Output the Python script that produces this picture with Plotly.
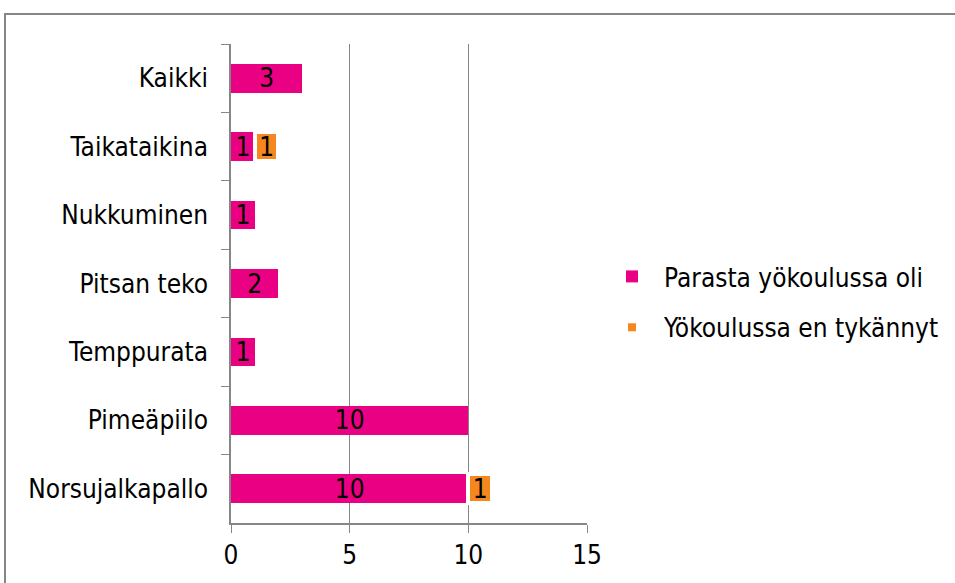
import plotly.graph_objects as go

categories = ["Kaikki", "Taikataikina", "Nukkuminen", "Pitsan teko", "Temppurata", "Pimeäpiilo", "Norsujalkapallo"]
parasta = [3, 1, 1, 2, 1, 10, 10]
en_tykannyt = [None, 1, None, None, None, None, 1]
series_names = ["Parasta yökoulussa oli", "Yökoulussa en tykännyt"]
x_ticks = [0, 5, 10, 15]

FONT = "DejaVu Sans Condensed, DejaVu Sans"
FS = 26
fig = go.Figure()
fig.add_trace(go.Bar(
    y=categories, x=parasta, orientation="h", name=series_names[0],
    marker=dict(color="#EA0082", line=dict(width=0)),
    text=[str(v) for v in parasta], textposition="inside", insidetextanchor="middle",
    constraintext="none", textangle=0,
    textfont=dict(color="black", size=FS, family=FONT),
    legendgroup="a",
))
fig.add_trace(go.Bar(
    y=categories, x=en_tykannyt, orientation="h", name=series_names[1],
    marker=dict(color="#F5871F", line=dict(width=4, color="white")),
    text=[str(v) if v else "" for v in en_tykannyt], textposition="inside", insidetextanchor="middle",
    constraintext="none", textangle=0,
    textfont=dict(color="black", size=FS, family=FONT),
    legendgroup="b",
))

W, H = 955, 583
L, R, T, B = 231, 587, 44, 523
pw, ph = R - L, B - T

def px(x):
    return (x - L) / pw

def py(y):
    return (B - y) / ph

fig.update_layout(
    width=W, height=H,
    margin=dict(l=L, r=W - R, t=T, b=H - B, pad=0, autoexpand=False),
    barmode="stack", bargap=0.58,
    plot_bgcolor="white", paper_bgcolor="white",
    font=dict(family=FONT, size=FS, color="black"),
    showlegend=True,
    legend=dict(x=px(600), y=py(302), xanchor="left", yanchor="middle",
                font=dict(size=FS, family=FONT), traceorder="grouped",
                tracegroupgap=14, itemwidth=54, bgcolor="rgba(0,0,0,0)"),
    xaxis=dict(range=[0, 15], tickvals=x_ticks, showgrid=True, gridcolor="#868686", gridwidth=1,
               showline=True, linecolor="#868686", linewidth=1.5,
               ticks="outside", ticklen=8, tickcolor="#868686", zeroline=False,
               tickfont=dict(size=FS, family=FONT), automargin=False),
    yaxis=dict(categoryorder="array", categoryarray=categories, autorange="reversed",
               showline=True, linecolor="#868686", linewidth=1.5,
               ticks="outside", ticklen=8, tickcolor="#868686", tickson="boundaries",
               showgrid=False, tickfont=dict(size=FS, family=FONT), ticklabelstandoff=16,
               automargin=False),
    shapes=[dict(type="rect", xref="paper", yref="paper",
                 x0=px(5), x1=px(965), y0=py(600), y1=py(14),
                 line=dict(color="#868686", width=2), fillcolor="rgba(0,0,0,0)", layer="below")],
)

fig.write_html("out.html", config={"displayModeBar": False},
               post_script="document.body.style.margin='0px';")
